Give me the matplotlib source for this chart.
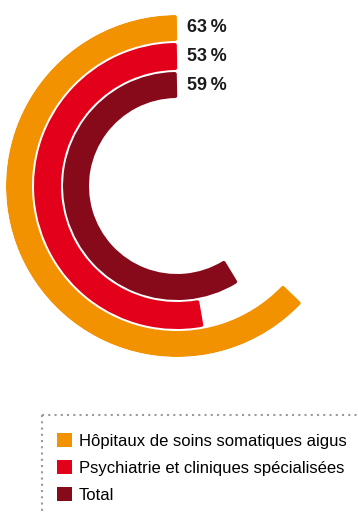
import numpy as np
import matplotlib
matplotlib.use('Agg')
import matplotlib.pyplot as plt
from matplotlib.patches import Patch
from matplotlib.lines import Line2D

# Données
categories = ['Hôpitaux de soins somatiques aigus',
              'Psychiatrie et cliniques spécialisées',
              'Total']
values = [63, 53, 59]
colors = ['#F39200', '#E2001A', '#860A1A']

W, H = 358, 515
fig = plt.figure(figsize=(W / 100, H / 100), dpi=100)

# Géométrie en pixels
cx, cy, R = 177, 186, 171
rings = [(145, 171), (116, 143), (88, 114)]
pad = 2.0

ax = fig.add_axes([(cx - R) / W, (H - cy - R) / H, 2 * R / W, 2 * R / H],
                  projection='polar')
ax.set_theta_zero_location('N')
ax.set_theta_direction(1)
ax.set_ylim(0, R)
ax.axis('off')

fonts = ['Liberation Sans', 'DejaVu Sans']

for val, (r0, r1), col in zip(values, rings, colors):
    rm = (r0 + r1) / 2
    span = val / 100 * 2 * np.pi
    ax.bar(pad / rm, (r1 - r0) - 2 * pad, width=span - 2 * pad / rm,
           bottom=r0 + pad, align='edge', color=col, edgecolor=col,
           linewidth=2 * pad * 0.72, joinstyle='round')
    ax.annotate(f'{val}\u2009%', xy=(0, rm), xytext=(7.5, 0),
                textcoords='offset points', va='center', ha='left',
                fontsize=13, fontweight='bold', color='#1a1a1a',
                family=fonts, annotation_clip=False)

# Cadre pointillé de la légende
x0, y0 = 42 / W, 1 - 415 / H
fig.add_artist(Line2D([x0, 1], [y0, y0], transform=fig.transFigure,
                      color='#9a9a9a', linestyle=(0, (1, 2)), linewidth=1.5))
fig.add_artist(Line2D([x0, x0], [y0, 0], transform=fig.transFigure,
                      color='#9a9a9a', linestyle=(0, (1, 2)), linewidth=1.5))

handles = [Patch(facecolor=c, edgecolor='none') for c in colors]
fig.legend(handles, categories, loc='upper left',
           bbox_to_anchor=(57 / W, 1 - 433 / H), frameon=False,
           prop={'family': fonts, 'size': 12},
           handlelength=0.9, handleheight=0.9, handletextpad=0.4,
           labelspacing=0.68, borderpad=0, borderaxespad=0)

fig.savefig('out.png', dpi=100)
